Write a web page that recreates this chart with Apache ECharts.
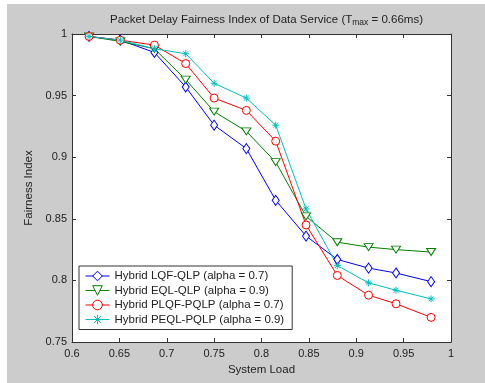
<!DOCTYPE html>
<html>
<head>
<meta charset="utf-8">
<script src="https://cdn.jsdelivr.net/npm/echarts@6/dist/echarts.min.js"></script>
<style>
html,body{margin:0;padding:0;background:#fff;}
#c{width:485px;height:383px;}
</style>
</head>
<body>
<div id="c"></div>
<script>
const loads = [0.618, 0.651, 0.687, 0.72, 0.75, 0.784, 0.815, 0.847, 0.88, 0.913, 0.942, 0.979];
const lqfQlp   = [0.998, 0.995, 0.985, 0.957, 0.926, 0.907, 0.865, 0.836, 0.817, 0.810, 0.806, 0.799];
const eqlQlp   = [0.998, 0.994, 0.988, 0.963, 0.937, 0.921, 0.896, 0.852, 0.831, 0.827, 0.825, 0.823];
const plqfPqlp = [0.998, 0.995, 0.991, 0.976, 0.948, 0.938, 0.913, 0.845, 0.804, 0.788, 0.781, 0.770];
const peqlPqlp = [0.998, 0.995, 0.988, 0.984, 0.960, 0.948, 0.926, 0.858, 0.812, 0.798, 0.792, 0.785];
const seriesNames = [
  'Hybrid LQF-QLP (alpha = 0.7)',
  'Hybrid EQL-QLP (alpha = 0.9)',
  'Hybrid PLQF-PQLP (alpha = 0.7)',
  'Hybrid PEQL-PQLP (alpha = 0.9)'
];
const xTicks = [0.6, 0.65, 0.7, 0.75, 0.8, 0.85, 0.9, 0.95, 1];
const yTicks = [0.75, 0.8, 0.85, 0.9, 0.95, 1];

const FONT = 'Liberation Sans, Arial, sans-serif';
const TXT = '#222';
const AX = '#333';
const pair = (ys) => loads.map((x, i) => [x, ys[i]]);
const fmt = (v) => String(parseFloat(v.toFixed(2)));

const star = 'path://M5,0L5,10M0,5L10,5M1.5,1.5L8.5,8.5M1.5,8.5L8.5,1.5';
const triDown = 'path://M0,0L10,0L5,8Z';

const chart = echarts.init(document.getElementById('c'), null, {renderer: 'canvas'});
const gridL = 72, gridT = 34, gridW = 379, gridH = 308;

function mkSeries(name, ys, color, symbol, size, fill) {
  return {
    name: name, type: 'line', data: pair(ys),
    symbol: symbol, symbolSize: size,
    showSymbol: true,
    lineStyle: {color: color, width: 1},
    itemStyle: {color: fill, borderColor: color, borderWidth: 1},
    emphasis: {disabled: true},
    animation: false, z: 3
  };
}

const axisCommon = {
  type: 'value', interval: 0.05,
  axisLine: {show: true, onZero: false, lineStyle: {color: AX, width: 1}},
  axisTick: {show: true, inside: true, length: 4, lineStyle: {color: AX}},
  splitLine: {show: false}
};

chart.setOption({
  backgroundColor: '#ffffff',
  animation: false,
  graphic: [{
    type: 'rect', left: 7, top: 4, z: -10, silent: true,
    shape: {width: 478, height: 379},
    style: {fill: '#cccccc'}
  }, {
    type: 'rect', z: -5, silent: true,
    shape: {x: gridL, y: gridT, width: gridW, height: gridH},
    style: {fill: '#ffffff'}
  }],
  title: {
    text: '{a|Packet Delay Fairness Index of Data Service (T}{s|max}{a| = 0.66ms)}',
    left: gridL + gridW / 2, top: 7, textAlign: 'center',
    textStyle: {
      fontWeight: 'normal',
      rich: {
        a: {fontFamily: FONT, fontSize: 11.5, color: TXT, fontWeight: 'normal'},
        s: {fontFamily: FONT, fontSize: 8.5, color: TXT, fontWeight: 'normal', padding: [6, 0, 0, 0]}
      }
    }
  },
  grid: {left: gridL, top: gridT, width: gridW, height: gridH, show: false},
  legend: {
    orient: 'vertical', left: 79, top: 266,
    data: seriesNames,
    itemWidth: 24, itemHeight: 12, itemGap: 2.5,
    padding: [4, 8, 4, 6],
    backgroundColor: '#ffffff', borderColor: '#333', borderWidth: 1,
    itemStyle: {borderWidth: 1},
    lineStyle: {width: 1},
    textStyle: {fontFamily: FONT, fontSize: 11.5, color: TXT, padding: [0, 0, 0, 0]},
    selectedMode: false
  },
  xAxis: [Object.assign({}, axisCommon, {
    min: 0.6, max: 1, position: 'bottom',
    name: 'System Load', nameLocation: 'middle', nameGap: 21,
    nameTextStyle: {fontFamily: FONT, fontSize: 11.5, color: TXT},
    axisLabel: {show: true, margin: 6, fontFamily: FONT, fontSize: 11, color: TXT,
      formatter: (v) => fmt(v), showMinLabel: true, showMaxLabel: true, hideOverlap: false}
  }), Object.assign({}, axisCommon, {
    min: 0.6, max: 1, position: 'top',
    axisLabel: {show: false}
  })],
  yAxis: [Object.assign({}, axisCommon, {
    min: 0.75, max: 1, position: 'left',
    name: 'Fairness Index', nameLocation: 'middle', nameGap: 31,
    nameTextStyle: {fontFamily: FONT, fontSize: 11.5, color: TXT},
    axisLabel: {show: true, margin: 5, fontFamily: FONT, fontSize: 11, color: TXT,
      formatter: (v) => fmt(v), showMinLabel: true, showMaxLabel: true, hideOverlap: false}
  }), Object.assign({}, axisCommon, {
    min: 0.75, max: 1, position: 'right',
    axisLabel: {show: false}
  })],
  series: [
    mkSeries(seriesNames[0], lqfQlp, '#0000ff', 'diamond', [7, 10], '#ffffff'),
    mkSeries(seriesNames[1], eqlQlp, '#008000', triDown, [9, 7], '#ffffff'),
    mkSeries(seriesNames[2], plqfPqlp, '#ff0000', 'circle', 8, '#ffffff'),
    mkSeries(seriesNames[3], peqlPqlp, '#00bfbf', star, 7, '#00bfbf')
  ]
});
</script>
</body>
</html>
